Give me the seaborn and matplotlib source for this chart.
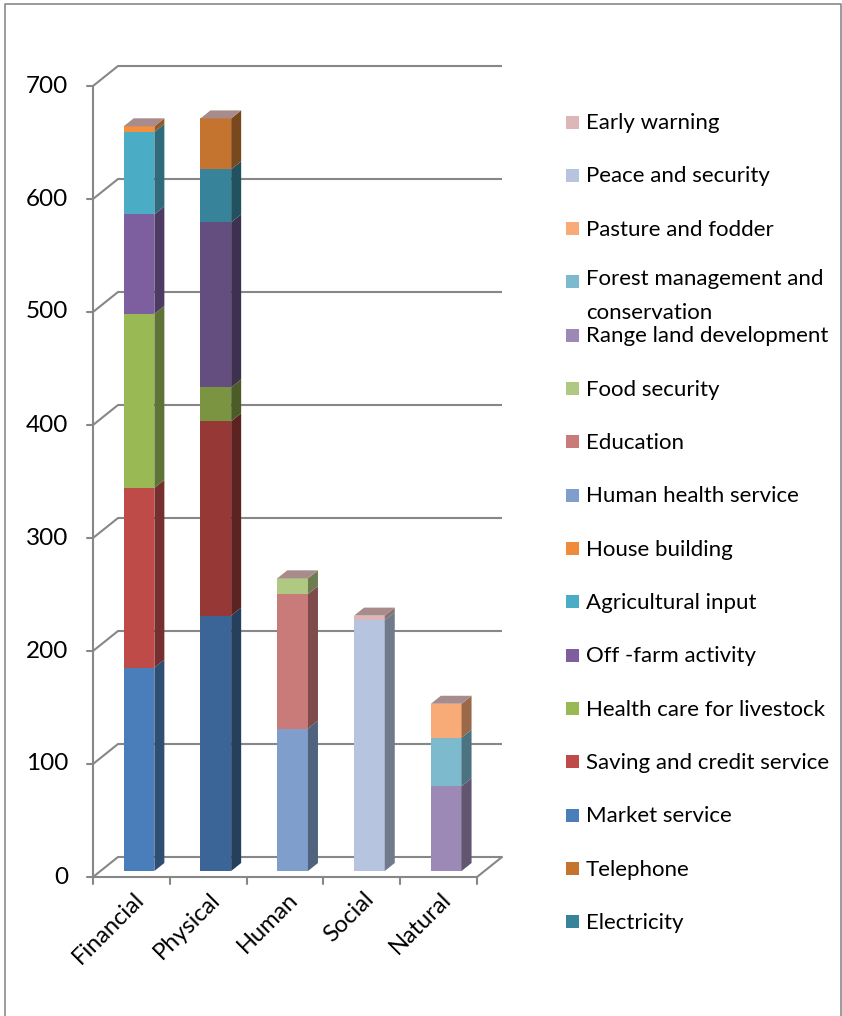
import matplotlib
matplotlib.use("Agg")
import numpy as np
import pandas as pd
import matplotlib.pyplot as plt
import seaborn as sns
from matplotlib.patches import Polygon, Rectangle
from matplotlib.transforms import offset_copy
from matplotlib.lines import Line2D

# ---------------- data ----------------
categories = ["Financial", "Physical", "Human", "Social", "Natural"]

market_service = [180, 0, 0, 0, 0]
saving_credit = [159, 0, 0, 0, 0]
health_livestock = [154, 0, 0, 0, 0]
off_farm = [88, 0, 0, 0, 0]
agri_input = [73, 0, 0, 0, 0]
house_building = [5, 0, 0, 0, 0]
physical_a = [0, 226, 0, 0, 0]
physical_b = [0, 172, 0, 0, 0]
physical_c = [0, 30, 0, 0, 0]
physical_d = [0, 146, 0, 0, 0]
electricity = [0, 47, 0, 0, 0]
telephone = [0, 45, 0, 0, 0]
human_health = [0, 0, 126, 0, 0]
education = [0, 0, 119, 0, 0]
food_security = [0, 0, 14, 0, 0]
peace_security = [0, 0, 0, 222, 0]
early_warning = [0, 0, 0, 4, 0]
range_land = [0, 0, 0, 0, 75]
forest_mgmt = [0, 0, 0, 0, 43]
pasture_fodder = [0, 0, 0, 0, 30]

# stacking order, bottom -> top
stack_names = ["Market service", "Saving and credit service", "Health care for livestock",
               "Off -farm activity", "Agricultural input", "House building",
               "Physical A", "Physical B", "Physical C", "Physical D",
               "Electricity", "Telephone",
               "Human health service", "Education", "Food security",
               "Peace and security", "Early warning",
               "Range land development", "Forest management and conservation",
               "Pasture and fodder"]
stack_values = [market_service, saving_credit, health_livestock, off_farm, agri_input,
                house_building, physical_a, physical_b, physical_c, physical_d,
                electricity, telephone, human_health, education, food_security,
                peace_security, early_warning, range_land, forest_mgmt, pasture_fodder]
stack_colors = ["#4A7EBB", "#BE4B48", "#98B954", "#7D5FA0", "#4BACC6", "#F3903F",
                "#3B6596", "#953836", "#7A9442", "#644E80", "#37849A", "#C4742F",
                "#7F9ECC", "#C97B79", "#B0C982", "#B7C4DF", "#DDB7B7",
                "#9D89B5", "#7EBACE", "#F8AA77"]

legend_labels = ["Early warning", "Peace and security", "Pasture and fodder",
                 "Forest management and\nconservation", "Range land development",
                 "Food security", "Education", "Human health service", "House building",
                 "Agricultural input", "Off -farm activity", "Health care for livestock",
                 "Saving and credit service", "Market service", "Telephone", "Electricity"]
legend_colors = ["#DDB7B7", "#B7C4DF", "#F8AA77", "#7EBACE", "#9D89B5", "#B0C982",
                 "#C97B79", "#7F9ECC", "#EE8B3C", "#4BACC6", "#7D5FA0", "#98B954",
                 "#BE4B48", "#4A7EBB", "#C4742F", "#37849A"]

yticks = [0, 100, 200, 300, 400, 500, 600, 700]

# ---------------- long table ----------------
rows = []
cum = np.zeros(len(categories))
for name, vals, col in zip(stack_names, stack_values, stack_colors):
    for i, v in enumerate(vals):
        if v > 0:
            rows.append(dict(category=categories[i], series=name, value=v,
                             bottom=cum[i], top=cum[i] + v, color=col, idx=i))
            cum[i] += v
df = pd.DataFrame(rows)
palette = dict(zip(stack_names, stack_colors))

# ---------------- figure ----------------
sns.set_style("white")
plt.rcParams["font.family"] = ["Lato", "DejaVu Sans"]

W, H = 842, 1016
fig = plt.figure(figsize=(W / 100, H / 100), dpi=100)
ax_l, ax_r, ax_b, ax_t = 93, 477, 877, 86   # front plane, pixels
ax = fig.add_axes([ax_l / W, 1 - ax_b / H, (ax_r - ax_l) / W, (ax_b - ax_t) / H])

ppu_x = (ax_r - ax_l) / 5.0
ppu_y = (ax_b - ax_t) / 700.0

GRAY = "#878787"
LW = 1.5
wdx, wdy = 25 / ppu_x, 20 / ppu_y      # wall depth
bdx, bdy = 10 / ppu_x, 8 / ppu_y       # bar depth
bar_tr = offset_copy(ax.transData, fig=fig, x=7.6, y=6.0, units="dots")

# back wall gridlines and connectors
for v in yticks:
    ax.plot([-0.5 + wdx, 4.5 + wdx], [v + wdy, v + wdy], color=GRAY, lw=LW,
            clip_on=False, zorder=0, solid_capstyle="butt")
    ax.plot([-0.5, -0.5 + wdx], [v, v + wdy], color=GRAY, lw=LW, clip_on=False, zorder=0)
    ax.plot([-0.5 - 6 / ppu_x, -0.5], [v, v], color=GRAY, lw=LW, clip_on=False, zorder=0)
    ax.text(-0.5 - 25 / ppu_x, v, str(v), ha="right", va="center", fontsize=17.5,
            color="black")
# front axis & floor
ax.plot([-0.5, -0.5], [0, 700], color=GRAY, lw=LW, clip_on=False, zorder=0)
ax.plot([-0.5, 4.5], [0, 0], color=GRAY, lw=LW, clip_on=False, zorder=0)
ax.plot([4.5, 4.5 + wdx], [0, wdy], color=GRAY, lw=LW, clip_on=False, zorder=0)
for xb in np.arange(-0.5, 5.0, 1.0):
    ax.plot([xb, xb], [0, -7 / ppu_y], color=GRAY, lw=LW, clip_on=False, zorder=0)

# bars (front faces)
sns.barplot(data=df, x="category", y="top", hue="series", order=categories,
            hue_order=stack_names[::-1], palette=palette, dodge=False, width=0.4,
            saturation=1, errorbar=None, legend=False, ax=ax, linewidth=0,
            edgecolor="none", zorder=2)
for p in ax.patches:
    p.set_transform(bar_tr)
    p.set_clip_on(False)

# side faces & top faces
def darker(c, f=0.62):
    r, g, b = matplotlib.colors.to_rgb(c)
    return (r * f, g * f, b * f)

for _, r in df.iterrows():
    x1 = r["idx"] + 0.2
    b, t = r["bottom"], r["top"]
    ax.add_patch(Polygon([(x1, b), (x1 + bdx, b + bdy), (x1 + bdx, t + bdy), (x1, t)],
                         closed=True, facecolor=darker(r["color"]), edgecolor="none",
                         transform=bar_tr, clip_on=False, zorder=3))
for i, c in enumerate(categories):
    t = cum[i]
    x0, x1 = i - 0.2, i + 0.2
    ax.add_patch(Polygon([(x0, t), (x1, t), (x1 + bdx, t + bdy), (x0 + bdx, t + bdy)],
                         closed=True, facecolor="#A88B8B", edgecolor="none",
                         transform=bar_tr, clip_on=False, zorder=3))
    ax.text(i + 9 / ppu_x, -19 / ppu_y, c, rotation=45, rotation_mode="anchor",
            ha="right", va="center", fontsize=17, color="black")

ax.set_xlim(-0.5, 4.5)
ax.set_ylim(0, 700)
ax.axis("off")

# legend (manual, Excel-like)
LINE_GAP = 30
for k, (lab, col) in enumerate(zip(legend_labels, legend_colors)):
    yc = 122 + k * 53.33
    nl = lab.count("\n")
    fig.add_artist(Rectangle((566 / W, 1 - (yc + 6.5) / H), 13 / W, 13 / H,
                             transform=fig.transFigure, facecolor=col, edgecolor="none"))
    fig.text(586 / W, 1 - (yc + 7 + nl * LINE_GAP) / H, lab, ha="left", va="baseline",
             fontsize=16, linespacing=1.85, color="black")

# chart frame
fx0, fx1, fy0 = 5 / W, 841 / W, 1 - 4 / H
fig.add_artist(Line2D([fx0, fx0, fx1, fx1], [0, fy0, fy0, 0], transform=fig.transFigure,
                      color="#8A8A8A", lw=1.2))

fig.savefig("out.png", dpi=100, facecolor="white")
